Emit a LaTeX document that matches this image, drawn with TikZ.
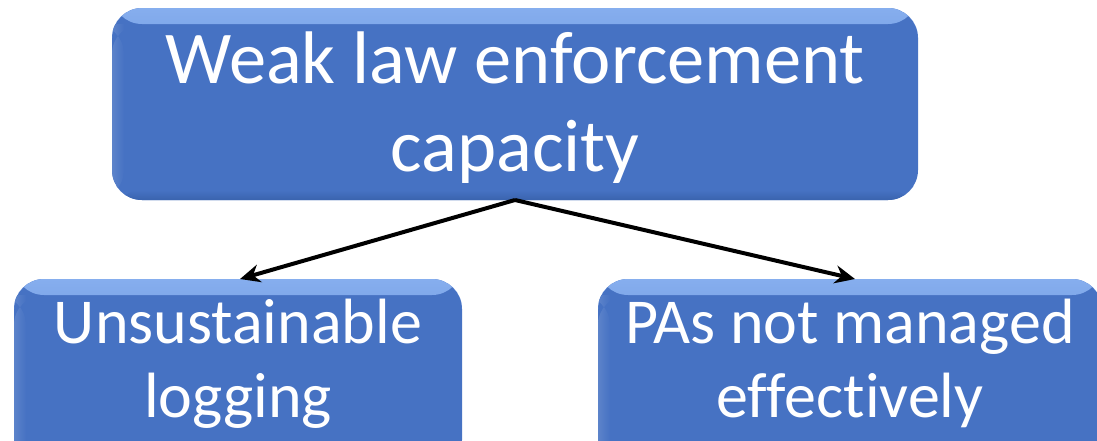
\documentclass[tikz,border=0pt]{standalone}
\usepackage{fontspec}
\setmainfont{Carlito}[Ligatures=NoCommon]
\usetikzlibrary{arrows.meta}
\definecolor{boxblue}{HTML}{4672C3}
\definecolor{boxlight}{HTML}{86AEEE}
\definecolor{boxdark}{HTML}{3A63AE}
\tikzset{
  bevelbox/.style={rounded corners=30pt, fill=boxblue, inner sep=0pt, outer sep=0pt,
    text=white, align=center,
    path picture={
      \shade[top color=boxlight, bottom color=boxblue]
        (path picture bounding box.north west) rectangle ([yshift=-16pt]path picture bounding box.north east);
      \shade[left color=boxblue!88!white, right color=boxblue]
        ([yshift=-16pt]path picture bounding box.north west) rectangle ([xshift=12pt]path picture bounding box.south west);
      \shade[top color=boxblue, bottom color=boxdark]
        ([yshift=10pt]path picture bounding box.south west) rectangle (path picture bounding box.south east);
    }},
  topfont/.style={font=\fontsize{74.5pt}{88pt}\selectfont},
  botfont/.style={font=\fontsize{64pt}{74pt}\selectfont},
  link/.style={draw=black, line width=4pt, -{Stealth[length=20pt,width=18pt]}}
}
\begin{document}
\begin{tikzpicture}[x=1pt,y=-1pt]
\useasboundingbox (0,0) rectangle (1097,440);
\node[bevelbox, topfont, minimum width=806pt, minimum height=192pt,
      text height=134pt, text depth=0pt] (top) at (515,104)
  {Weak law enforcement\\capacity};
\node[bevelbox, botfont, minimum width=448pt, minimum height=191pt,
      text height=85pt, text depth=0pt] (left) at (238,374.5)
  {Unsustainable\\logging};
\node[bevelbox, botfont, minimum width=504pt, minimum height=191pt,
      text height=85pt, text depth=0pt] (right) at (850,374.5)
  {PAs not managed\\effectively};
\coordinate (lt) at (240,279);
\coordinate (rt) at (855,279);
\draw[link] (top.south) -- (lt);
\draw[link] (top.south) -- (rt);
\end{tikzpicture}
\end{document}
